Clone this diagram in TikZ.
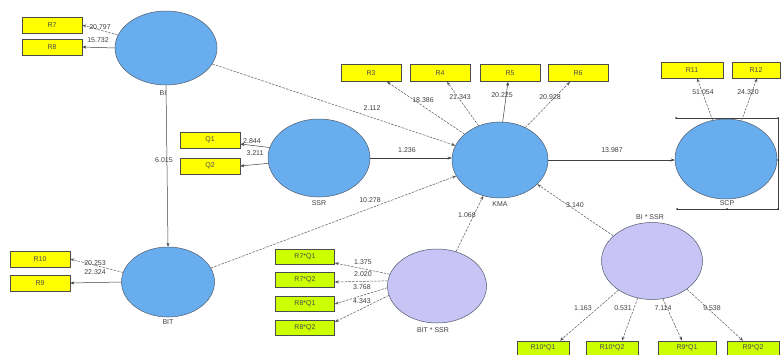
\documentclass[tikz,border=0pt]{standalone}
\usepackage{fontspec}
\setmainfont{Liberation Sans}
\usetikzlibrary{shapes.geometric,arrows.meta,calc}
\definecolor{lvblue}{RGB}{104,174,238}
\definecolor{lvpurple}{RGB}{200,196,246}
\definecolor{indy}{RGB}{255,255,0}
\definecolor{indg}{RGB}{204,255,0}
\definecolor{edgec}{RGB}{50,60,80}
\begin{document}
\begin{tikzpicture}[x=1pt,y=-1pt,
 lv/.style={ellipse,draw=edgec!85,fill=lvblue,inner sep=0,line width=0.5pt},
 lvi/.style={lv,fill=lvpurple},
 mv/.style={rectangle,draw=black!70,fill=indy,minimum width=60pt,minimum height=16pt,inner sep=0,font=\fontsize{7}{8}\selectfont,text=black!70,line width=0.6pt},
 mvg/.style={mv,fill=indg,minimum width=59pt,minimum height=15pt},
 arr/.style={-{Stealth[length=4pt,width=3pt]},draw=black!75,line width=0.5pt},
 darr/.style={arr,draw=black!65,dash pattern=on 2.5pt off 1.2pt},
 num/.style={font=\fontsize{7}{8}\selectfont,text=black!75,inner sep=0},
 lbl/.style={font=\fontsize{7}{8}\selectfont,text=black!75,inner sep=0},
 handle/.style={circle,fill=black!80,inner sep=0,minimum size=2pt}]
\useasboundingbox[fill=white] (0,0) rectangle (784,354);

% latent variables
\node[lv,minimum width=102pt,minimum height=74pt] (bi) at (166,48) {};
\node[lv,minimum width=93pt,minimum height=70pt] (bit) at (168,282) {};
\node[lv,minimum width=102pt,minimum height=78pt] (ssr) at (319,158) {};
\node[lv,minimum width=96pt,minimum height=76pt] (kma) at (500,160) {};
\node[lv,minimum width=102pt,minimum height=80pt] (scp) at (726,159) {};
\node[lvi,minimum width=101pt,minimum height=77pt] (bis) at (652,261) {};
\node[lvi,minimum width=99pt,minimum height=74pt] (bts) at (437,286) {};

\node[lbl] (lbi) at (163,93) {BI};
\node[lbl] (lbit) at (168,322) {BIT};
\node[lbl] (lssr) at (319,203) {SSR};
\node[lbl] (lkma) at (500,204) {KMA};
\node[lbl] (lscp) at (727,203) {SCP};
\node[lbl] (lbis) at (650,217) {BI * SSR};
\node[lbl] (lbts) at (433,330) {BIT * SSR};

% indicators
\node[mv] (r7) at (52,25) {R7};
\node[mv] (r8) at (52,47) {R8};
\node[mv] (r10) at (40,259) {R10};
\node[mv] (r9) at (40,283) {R9};
\node[mv] (q1) at (210,140) {Q1};
\node[mv] (q2) at (210,166) {Q2};
\node[mv,minimum height=17pt] (r3) at (371,73) {R3};
\node[mv,minimum height=17pt] (r4) at (440,73) {R4};
\node[mv,minimum height=17pt] (r5) at (510,73) {R5};
\node[mv,minimum height=17pt] (r6) at (578,73) {R6};
\node[mv,minimum width=62pt] (r11) at (692,70) {R11};
\node[mv,minimum width=48pt] (r12) at (756,70) {R12};
\node[mvg] (a1) at (305,257) {R7*Q1};
\node[mvg] (a2) at (305,280) {R7*Q2};
\node[mvg] (a3) at (305,304) {R8*Q1};
\node[mvg] (a4) at (305,328) {R8*Q2};
\node[mvg,minimum width=52pt,minimum height=14pt] (b1) at (543,348) {R10*Q1};
\node[mvg,minimum width=52pt,minimum height=14pt] (b2) at (612,348) {R10*Q2};
\node[mvg,minimum width=58pt,minimum height=14pt] (b3) at (687,348) {R9*Q1};
\node[mvg,minimum width=52pt,minimum height=14pt] (b4) at (753,348) {R9*Q2};

% outer loadings
\draw[darr] (bi.165) -- (r7.east);
\draw[arr] (bi.180) -- (r8.east);
\node[num] (n1) at (100,27) {20.797};
\node[num] (n2) at (98,40) {15.732};

\draw[darr] (bit.168) -- (r10.east);
\draw[arr] (bit.180) -- (r9.east);
\node[num] (n3) at (95,263) {20.253};
\node[num] (n4) at (95,272) {22.324};

\draw[arr] (ssr.168) -- ($(q1.east)+(0,4)$);
\draw[arr] (ssr.186) -- (q2.east);
\node[num] (n5) at (252,141) {2.844};
\node[num] (n6) at (255,153) {3.211};

\draw[darr] (kma.144) -- ($(r3.south)+(16,0)$);
\draw[darr] (kma.122) -- ($(r4.south)+(7,0)$);
\draw[arr] (kma.86) -- ($(r5.south)+(-2,0)$);
\draw[darr] (kma.52) -- ($(r6.south)+(-8,0)$);
\node[num] (n7) at (423,100) {18.386};
\node[num] (n8) at (460,97) {21.343};
\node[num] (n9) at (502,95) {20.225};
\node[num] (n10) at (550,97) {20.928};

\draw[darr] (scp.109) -- ($(r11.south)+(5,0)$);
\draw[darr] (scp.68) -- ($(r12.south)+(1,0)$);
\node[num] (n11) at (703,92) {51.054};
\node[num] (n12) at (748,92) {24.320};

\draw[darr] (bts.166) -- ($(a1.east)+(0,6)$);
\draw[darr] (bts.174) -- ($(a2.east)+(0,2)$);
\draw[darr] (bts.182) -- (a3.east);
\draw[darr] (bts.191) -- ($(a4.east)+(0,-6)$);
\node[num] (n13) at (363,262) {1.375};
\node[num] (n14) at (363,274) {2.020};
\node[num] (n15) at (362,287) {3.768};
\node[num] (n16) at (362,301) {4.343};

\draw[darr] (bis.221) -- ($(b1.north)+(17,0)$);
\draw[darr] (bis.249) -- ($(b2.north)+(10,0)$);
\draw[darr] (bis.286) -- ($(b3.north)+(-5,0)$);
\draw[darr] (bis.321) -- ($(b4.north)+(-10,0)$);
\node[num] (n17) at (583,308) {1.163};
\node[num] (n18) at (623,308) {0.531};
\node[num] (n19) at (663,308) {7.114};
\node[num] (n20) at (712,308) {9.538};

% structural paths
\draw[arr] (bi.south) -- (bit.north);
\node[num] (p1) at (164,160) {6.015};
\draw[darr] (bi.-19) -- (kma.162);
\node[num] (p2) at (372,108) {2.112};
\draw[arr] (ssr.east) -- (ssr.east -| kma.west);
\node[num] (p3) at (407,150) {1.236};
\draw[darr] (bit.18) -- (kma.200);
\node[num] (p4) at (370,200) {10.278};
\draw[darr] (bts.61) -- (kma.245);
\node[num] (p5) at (467,215) {1.068};
\draw[darr] (bis.147) -- (kma.-33);
\node[num] (p6) at (575,205) {3.140};
\draw[arr] (kma.east) -- (kma.east -| scp.west);
\node[num] (p7) at (612,150) {13.987};

% selection frame around SCP
\coordinate (f1) at (676,118);
\coordinate (f2) at (778,118);
\coordinate (f3) at (778,209);
\coordinate (f4) at (677,209);
\draw[black!75,line width=0.5pt] (f1) -- (f2) -- (f3) -- (f4);
\node[handle] (h1) at (f1) {};
\node[handle] (h2) at (f2) {};
\node[handle] (h3) at (f3) {};
\node[handle] (h4) at (f4) {};
\node[handle] (h5) at (727,209) {};
\node[handle] (h6) at (778,160) {};
\end{tikzpicture}
\end{document}
